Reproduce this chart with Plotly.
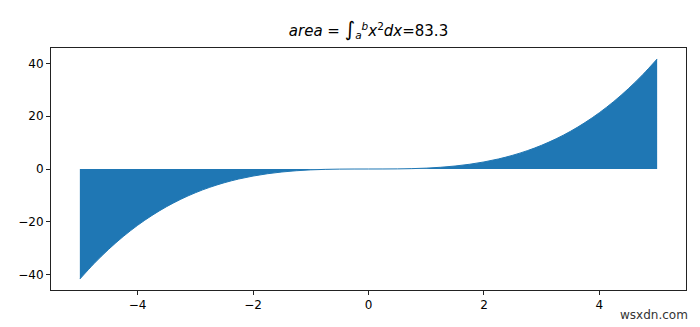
import plotly.graph_objects as go

# values (curve bounding the filled area)
x_vals = [-5.0, -4.75, -4.5, -4.25, -4.0, -3.75, -3.5, -3.25, -3.0, -2.75, -2.5,
          -2.25, -2.0, -1.75, -1.5, -1.25, -1.0, -0.75, -0.5, -0.25, 0.0,
          0.25, 0.5, 0.75, 1.0, 1.25, 1.5, 1.75, 2.0, 2.25, 2.5,
          2.75, 3.0, 3.25, 3.5, 3.75, 4.0, 4.25, 4.5, 4.75, 5.0]
y_vals = [-41.67, -35.72, -30.38, -25.59, -21.33, -17.58, -14.29, -11.44, -9.0, -6.93, -5.21,
          -3.80, -2.67, -1.79, -1.13, -0.65, -0.33, -0.14, -0.04, -0.01, 0.0,
          0.01, 0.04, 0.14, 0.33, 0.65, 1.13, 1.79, 2.67, 3.80, 5.21,
          6.93, 9.0, 11.44, 14.29, 17.58, 21.33, 25.59, 30.38, 35.72, 41.67]
x_ticks = [-4, -2, 0, 2, 4]
y_ticks = [-40, -20, 0, 20, 40]
title_text = ("<i>area</i> = <span style='font-size:20px'>∫</span>"
              "<sub><i>a</i></sub><sup><i>b</i></sup><i>x</i><sup>2</sup><i>dx</i>=83.3")
watermark = "wsxdn.com"

fig = go.Figure()
fig.add_trace(go.Scatter(
    x=x_vals, y=y_vals, mode="lines", fill="tozeroy",
    fillcolor="#1f77b4", line=dict(width=1, color="#1f77b4", shape="spline"),
    hoverinfo="skip", showlegend=False,
))

axis_common = dict(
    showgrid=False, zeroline=False, showline=True, linecolor="#222222", linewidth=1,
    mirror=True, ticks="outside", ticklen=4, tickwidth=1, tickcolor="#222222",
    tickfont=dict(family="DejaVu Sans", size=12, color="black"),
)
fig.update_xaxes(range=[-5.5, 5.5], tickvals=x_ticks, **axis_common)
fig.update_yaxes(range=[-45.83, 45.83], tickvals=y_ticks, **axis_common)

fig.update_layout(
    width=700, height=327,
    margin=dict(l=51, r=14, t=48, b=37),
    paper_bgcolor="white", plot_bgcolor="white",
    title=dict(text=title_text, x=0.5, xref="paper", y=1 - 31 / 327, yanchor="middle",
               font=dict(family="DejaVu Sans", size=15, color="black")),
    font=dict(family="DejaVu Sans"),
    annotations=[dict(text=watermark, xref="paper", yref="paper", x=1.006, y=-0.105,
                      xanchor="right", yanchor="middle", showarrow=False,
                      font=dict(family="DejaVu Sans", size=12, color="#333333"))],
)

fig.write_html("out.html")
